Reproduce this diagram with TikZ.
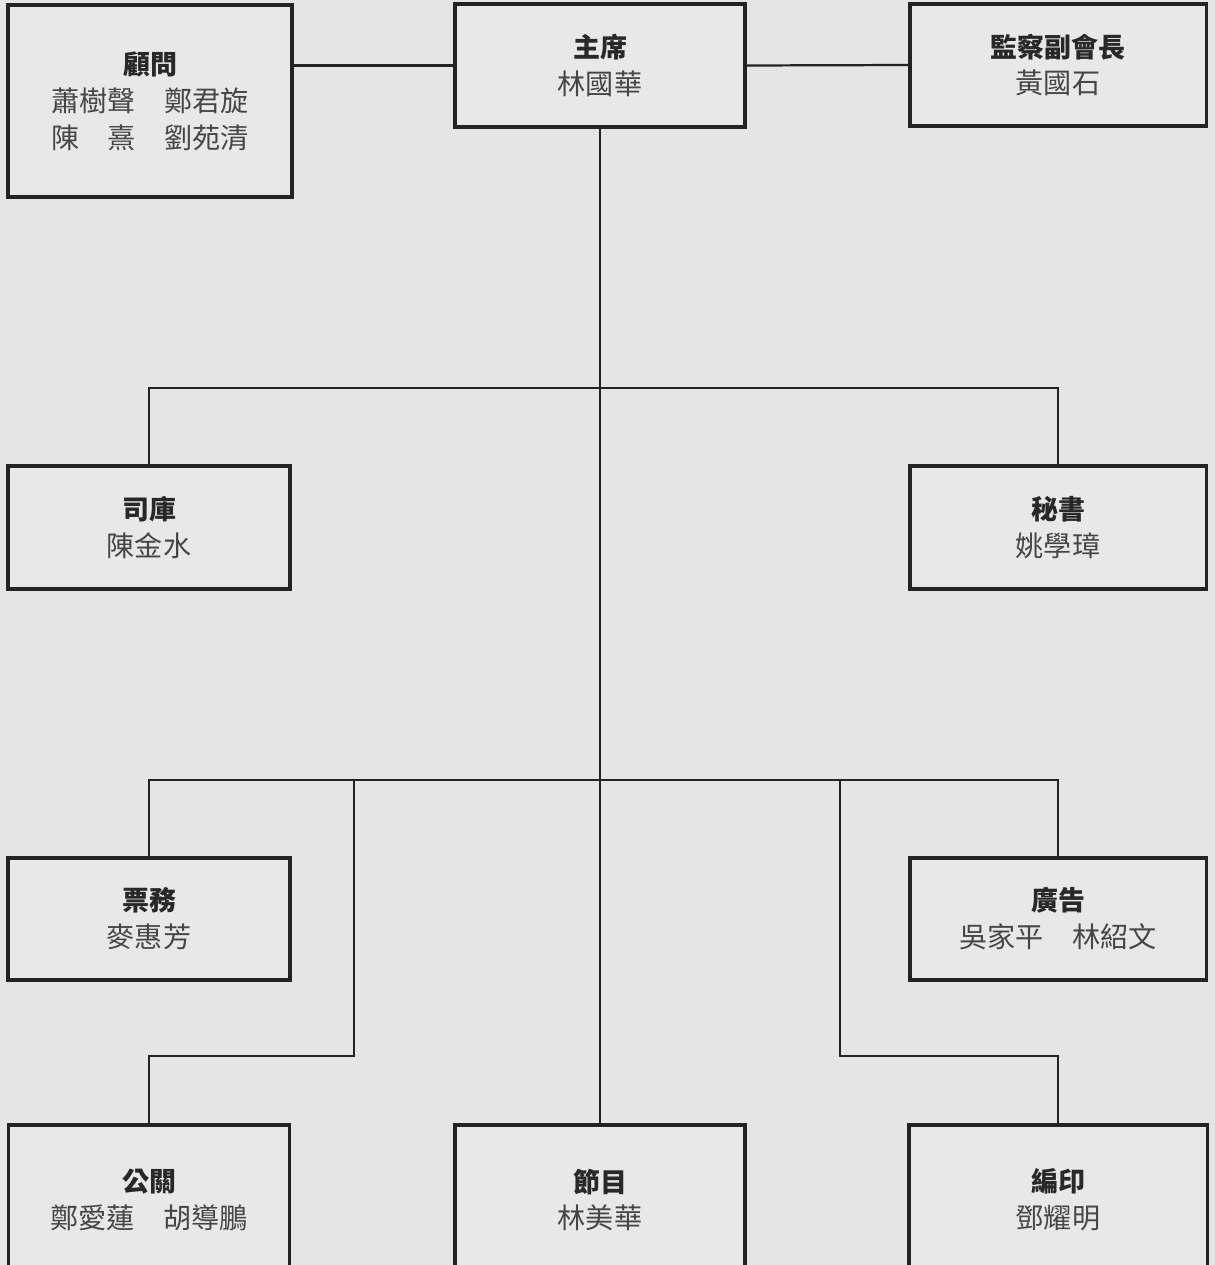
\documentclass[tikz,border=0pt]{standalone}
\usepackage{fontspec}
\setmainfont{Noto Sans CJK TC}
\usepackage{tikz}
\usetikzlibrary{positioning,calc}
\definecolor{paper}{RGB}{229,229,229}
\definecolor{boxfill}{RGB}{232,232,232}
\definecolor{ink}{RGB}{35,35,35}
\definecolor{titleink}{RGB}{40,40,40}
\definecolor{nameink}{RGB}{70,70,70}
\newcommand{\orgtitle}[1]{{\fontsize{23}{31.5}\selectfont\bfseries\color{titleink}#1}}

\begin{document}
\begin{tikzpicture}[x=0.03cm,y=-0.03cm,
    orgbox/.style={draw=ink,line width=2.6pt,fill=boxfill,inner sep=0pt,align=center,
      text=nameink,font=\fontsize{24}{31.5}\selectfont},
    orgline/.style={draw=ink,line width=1.9pt}]
    % page
    \fill[paper] (0,0) rectangle (1215,1265);
    \useasboundingbox (0,0) rectangle (1215,1265);
    \clip (0,0) rectangle (1215,1265);
    % top row
    \node[orgbox,minimum width=8.52cm,minimum height=5.76cm] (guwen) at (150,101)
      {\orgtitle{顧問}\\蕭樹聲　鄭君旋\\陳　熹　劉苑清};
    \node[orgbox,minimum width=8.7cm,minimum height=3.69cm] (zhuxi) at (600,65.5)
      {\orgtitle{主席}\\林國華};
    \node[orgbox,minimum width=8.88cm,minimum height=3.66cm] (jiancha) at (1058,65)
      {\orgtitle{監察副會長}\\黃國石};
    % second row
    \node[orgbox,minimum width=8.46cm,minimum height=3.69cm] (siku) at (149,527.5)
      {\orgtitle{司庫}\\陳金水};
    \node[orgbox,minimum width=8.88cm,minimum height=3.69cm] (mishu) at (1058,527.5)
      {\orgtitle{秘書}\\姚學璋};
    % third row
    \node[orgbox,minimum width=8.46cm,minimum height=3.66cm] (piaowu) at (149,919)
      {\orgtitle{票務}\\麥惠芳};
    \node[orgbox,minimum width=8.88cm,minimum height=3.66cm] (guanggao) at (1058,919)
      {\orgtitle{廣告}\\吳家平　林紹文};
    % bottom row (cut by the page edge)
    \node[orgbox,minimum width=8.43cm,minimum height=4.5cm] (gongguan) at (149,1200)
      {\orgtitle{公關}\\鄭愛蓮　胡導鵬};
    \node[orgbox,minimum width=8.7cm,minimum height=4.5cm] (jiemu) at (600,1200)
      {\orgtitle{節目}\\林美華};
    \node[orgbox,minimum width=8.94cm,minimum height=4.5cm] (bianyin) at (1058,1200)
      {\orgtitle{編印}\\鄧耀明};
    % bus points
    \coordinate (busA) at (600,388);
    \coordinate (busB) at (600,780);
    \coordinate (jogL) at (354,1056);
    \coordinate (jogR) at (840,1056);
    % connectors
    \draw[orgline] (zhuxi.west) -- (zhuxi.west -| guwen.east);
    \draw[orgline] (zhuxi.east) -- (jiancha.west);
    \draw[orgline] (zhuxi.south) -- (jiemu.north);
    \draw[orgline] (siku.north) |- (busA) -| (mishu.north);
    \draw[orgline] (piaowu.north) |- (busB) -| (guanggao.north);
    \draw[orgline] (jogL |- busB) -- (jogL) -| (gongguan.north);
    \draw[orgline] (jogR |- busB) -- (jogR) -| (bianyin.north);
  \end{tikzpicture}
\end{document}
